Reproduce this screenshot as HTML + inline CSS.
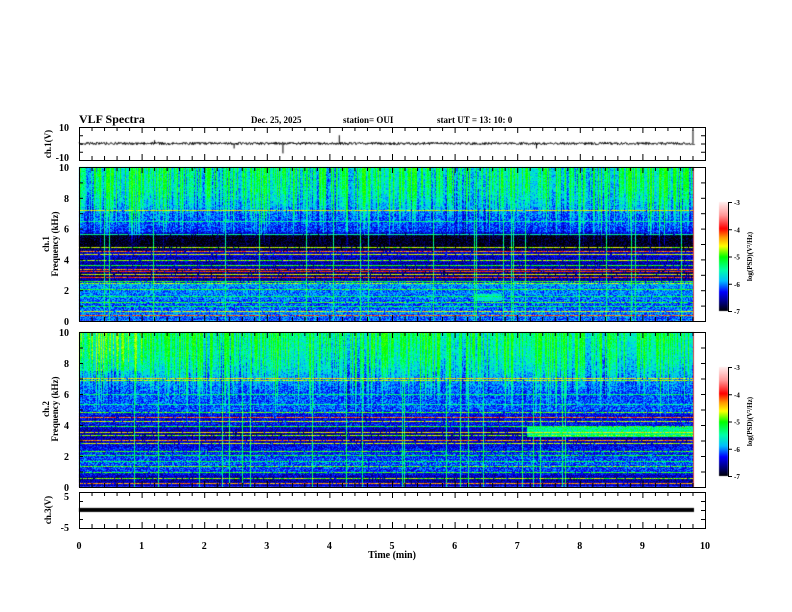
<!DOCTYPE html>
<html><head><meta charset="utf-8"><style>
html,body{margin:0;padding:0;background:#fff;}
#wrap{position:relative;width:792px;height:612px;overflow:hidden;background:#fff;}
canvas{position:absolute;left:0;top:0;}
svg{position:absolute;left:0;top:0;}
text{font-family:"Liberation Serif",serif;font-weight:bold;fill:#000;}
</style></head><body>
<div id="wrap">
<canvas id="cv" width="792" height="612"></canvas>
<svg id="sv" width="792" height="612"></svg>
</div>
<script>
// ---- data ----
const timeTicks = [0,1,2,3,4,5,6,7,8,9,10];
const freqTicks = [0,2,4,6,8,10];
const cbTicks = [-3,-4,-5,-6,-7];
const dataEndMin = 9.82;
const p1Freq = [0,0.5,1,1.5,2,2.4,2.6,3,3.5,4,4.4,4.8,5.5,5.8,6.4,7,7.5,8.5,10];
const p1Level = [-6.1,-6.0,-6.1,-6.0,-6.0,-5.9,-6.5,-6.7,-6.5,-6.5,-6.4,-6.95,-6.95,-6.2,-6.1,-6.0,-5.8,-5.6,-5.5];
const p2Freq = [0,0.5,1,1.5,2,2.5,3,3.5,4,4.5,5,5.5,6,6.5,7,7.5,8.5,10];
const p2Level = [-6.4,-6.6,-6.2,-6.1,-6.2,-6.3,-6.5,-6.6,-6.3,-6.4,-6.1,-6.1,-6.1,-6.0,-5.9,-5.7,-5.5,-5.3];
const p1LinesF = [0.3,0.6,0.9,1.2,1.6,2.0,2.4,2.55,2.8,3.0,3.2,3.35,3.6,3.9,4.3,4.5,4.75,5.6,6.5,7.2];
const p1LinesL = [-4.2,-4.6,-5.2,-5.0,-5.2,-5.0,-4.8,-5.0,-4.1,-4.6,-4.0,-4.3,-5.0,-4.8,-4.6,-4.2,-4.7,-5.5,-5.4,-4.6];
const p2LinesF = [0.2,0.5,0.9,1.3,1.6,2.0,2.3,2.8,3.0,3.3,3.5,3.9,4.2,4.5,4.8,5.3,6.0,6.9,7.0];
const p2LinesL = [-4.3,-4.8,-5.0,-4.9,-5.2,-5.1,-5.0,-4.7,-4.3,-4.8,-4.6,-5.0,-4.7,-4.2,-4.9,-5.4,-5.3,-4.7,-4.5];
const ch3Value = 0.3;
const ch1SpikeT = [1.2,2.47,3.25,4.15,7.3,9.8];
const ch1SpikeV = [2,-3,-6,5,-3,8];

// ---- geometry ----
const X0=79,X1=705;
const P = {ch1:[127,160], s1:[167,321], s2:[332,487], ch3:[492,528]};
const xs = t => X0 + (X1-X0)*t/10;

const cv=document.getElementById('cv'), ctx=cv.getContext('2d');
function hash(a,b){let h=(a*374761393+b*668265263)^0x5bd1e995;h=(h^(h>>>13))*1274126177;h=h^(h>>>16);return ((h>>>0)%100000)/100000;}
function interp(fa,la,f){for(let i=1;i<fa.length;i++){if(f<=fa[i]){const r=(f-fa[i-1])/(fa[i]-fa[i-1]);return la[i-1]+r*(la[i]-la[i-1]);}}return la[la.length-1];}
const stops=[[0,0,0,0],[0.08,0,0,120],[0.18,0,0,255],[0.28,0,190,255],[0.38,0,255,170],[0.5,0,255,0],[0.6,255,255,0],[0.68,255,150,0],[0.76,255,0,0],[0.88,255,150,150],[1,255,235,235]];
function cmap(t){t=Math.max(0,Math.min(1,t));for(let i=1;i<stops.length;i++){if(t<=stops[i][0]){const a=stops[i-1],b=stops[i],r=(t-a[0])/(b[0]-a[0]);return [a[1]+r*(b[1]-a[1]),a[2]+r*(b[2]-a[2]),a[3]+r*(b[3]-a[3])];}}return [255,235,235];}

function spectro(y0,y1,fa,la,lf,ll,seed,extra){
  const W=Math.round(xs(dataEndMin))-X0, H=y1-y0;
  const img=ctx.createImageData(W,H);
  const lineRow={};
  lf.forEach((f,i)=>{lineRow[Math.round(H-1-f/10*(H-1))]=ll[i];});
  for(let x=0;x<W;x++){
    const t=x/W*dataEndMin;
    const hc=hash(x,seed);
    const spike = hc>0.45 ? (hc-0.45)*1.8 : -0.25;
    const depth = 4 + hash(x,seed+5)*3.5;
    const fullLine = hash(x,seed+7)>0.965;
    const slow = Math.sin(x*0.05+seed)*0.15;
    for(let y=0;y<H;y++){
      const f=(H-1-y)/(H-1)*10;
      let v=interp(fa,la,f)+(hash(x*3+seed,y)-0.5)*0.6;
      if(f>depth){const w=Math.min(1,(f-depth)/3); v+=spike*w*1.1+slow*w;}
      if(f>4.8) v=Math.min(v,-4.95+(hash(y,x*7)-0.5)*0.2);
      v=extra(t,f,v);
      if(lineRow[y]!==undefined && hash(x,y+seed)>0.08) v=Math.max(v,lineRow[y]+(hash(x,y)-0.5)*0.5);
      if(fullLine) v=Math.max(v,-5.4+(hash(y,x)-0.5)*0.6);
      const c=cmap((v+7)/4), k=(y*W+x)*4;
      img.data[k]=c[0];img.data[k+1]=c[1];img.data[k+2]=c[2];img.data[k+3]=255;
    }
  }
  ctx.putImageData(img,X0,y0);
  ctx.fillStyle='#d04040';ctx.fillRect(X0+W-1,y0,1,H);
}
spectro(P.s1[0],P.s1[1],p1Freq,p1Level,p1LinesF,p1LinesL,11,(t,f,v)=>{
  if(t>6.3&&t<6.75&&f>1.3&&f<1.7) v=Math.max(v,-5.6+(hash(Math.round(t*100),Math.round(f*50))-0.5)*0.6);
  return v;});
spectro(P.s2[0],P.s2[1],p2Freq,p2Level,p2LinesF,p2LinesL,29,(t,f,v)=>{
  if(t>7.15&&f>3.2&&f<3.85) v=Math.max(v,-5.4+(hash(Math.round(t*100),Math.round(f*60))-0.5)*0.7);
  if(t<1&&f>7.5) v+=0.2;
  return v;});

function colorbar(y0,y1){
  for(let y=y0;y<y1;y++){const c=cmap(1-(y-y0)/(y1-y0));ctx.fillStyle=`rgb(${c[0]|0},${c[1]|0},${c[2]|0})`;ctx.fillRect(719,y,9,1);}
}
colorbar(202,311);colorbar(367,476);

// ch1 trace
ctx.strokeStyle='#000';ctx.lineWidth=1;ctx.beginPath();
const ch1y=v=>P.ch1[0]+ (10-v)/20*(P.ch1[1]-P.ch1[0]);
const W1=Math.round(xs(dataEndMin))-X0;
for(let x=0;x<=W1;x++){
  for(let k=0;k<2;k++){const v=(hash(x,k+50)-0.5)*1.5;const px=X0+x+k*0.5,py=ch1y(v);if(x===0&&k===0)ctx.moveTo(px,py);else ctx.lineTo(px,py);}
}
ctx.stroke();
ctx.beginPath();
ch1SpikeT.forEach((t,i)=>{ctx.moveTo(xs(t)+0.5,ch1y(0));ctx.lineTo(xs(t)+0.5,ch1y(ch1SpikeV[i]));});
ctx.stroke();
const ch3y=v=>P.ch3[0]+(5-v)/10*(P.ch3[1]-P.ch3[0]);
ctx.fillStyle='#000';ctx.fillRect(X0,ch3y(ch3Value)-1,W1,4);

// ---- SVG overlay ----
const sv=document.getElementById('sv');const NS='http://www.w3.org/2000/svg';
function el(tag,attrs,parent){const e=document.createElementNS(NS,tag);for(const k in attrs)e.setAttribute(k,attrs[k]);(parent||sv).appendChild(e);return e;}
function txt(s,x,y,size,name,anchor,rot){const e=el('text',{x:x,y:y,'font-size':size,'text-anchor':anchor||'start'});if(rot)e.setAttribute('transform',`rotate(-90 ${x} ${y})`);e.textContent=s;


return e;}
function frame(y0,y1,name){
  const g=el('g',{});
  
  
  el('rect',{x:X0+0.5,y:y0+0.5,width:X1-X0,height:y1-y0,fill:'none',stroke:'#000','stroke-width':1},g);
  for(let i=0;i<=50;i++){const x=xs(i/5)+0.5;const L=i%5===0?6:4;
    el('line',{x1:x,y1:y0,x2:x,y2:y0+L,stroke:'#000'},g);el('line',{x1:x,y1:y1,x2:x,y2:y1-L,stroke:'#000'},g);}
  return g;
}
function yticks(y0,y1,n,g){for(let i=0;i<=n;i++){const y=y0+(y1-y0)*i/n+0.5;el('line',{x1:X0,y1:y,x2:X0+4,y2:y,stroke:'#000'},g);el('line',{x1:X1,y1:y,x2:X1-4,y2:y,stroke:'#000'},g);}}
let g=frame(P.ch1[0],P.ch1[1],'ch1-panel');yticks(P.ch1[0],P.ch1[1],4,g);
g=frame(P.s1[0],P.s1[1],'ch1-spectrogram-panel');yticks(P.s1[0],P.s1[1],10,g);
g=frame(P.s2[0],P.s2[1],'ch2-spectrogram-panel');yticks(P.s2[0],P.s2[1],10,g);
g=frame(P.ch3[0],P.ch3[1],'ch3-panel');yticks(P.ch3[0],P.ch3[1],4,g);

txt('10',69,131,10,'ch1-y-tick','end');txt('-10',69,161,10,'ch1-y-tick','end');
freqTicks.forEach(f=>{const y1=P.s1[1]-(P.s1[1]-P.s1[0])*f/10;txt(String(f),69,y1+4,10,'s1-freq-tick','end');
  const y2=P.s2[1]-(P.s2[1]-P.s2[0])*f/10;txt(String(f),69,y2+4,10,'s2-freq-tick','end');});
txt('5',69,500,10,'ch3-y-tick','end');txt('-5',69,531,10,'ch3-y-tick','end');
timeTicks.forEach(t=>txt(String(t),xs(t),549,10,'time-tick','middle'));
txt('Time  (min)',xs(5),558,10,'x-axis-title','middle');
txt('VLF Spectra',79,123,12,'chart-title');
txt('Dec. 25, 2025',251,123,9,'date-label');
txt('station= OUI',343,123,9,'station-label');
txt('start  UT =   13: 10: 0',437,123,9,'start-time-label');
txt('ch.1(V)',51,144,9,'ch1-y-title','middle',true);
txt('ch.1',49,244,9,'s1-y-title','middle',true);txt('Frequency  (kHz)',58,244,9,'s1-y-title','middle',true);
txt('ch.2',49,409,9,'s2-y-title','middle',true);txt('Frequency  (kHz)',58,409,9,'s2-y-title','middle',true);
txt('ch.3(V)',51,510,9,'ch3-y-title','middle',true);
[[202,311,'cb1'],[367,476,'cb2']].forEach(([a,b,n])=>{
  const cg=el('g',{});
  
  
  el('line',{x1:728.5,y1:a,x2:728.5,y2:b,stroke:'#000'},cg);
  cbTicks.forEach((v,i)=>{const y=a+(b-a)*i/4;el('line',{x1:728,y1:y+0.5,x2:732,y2:y+0.5,stroke:'#000'},cg);txt(String(v),734,y+3,7,n+'-tick');});
  txt('log(PSD)(V\u00b2/Hz)',752,(a+b)/2,7,n+'-title','middle',true);
});
</script>
</body></html>
